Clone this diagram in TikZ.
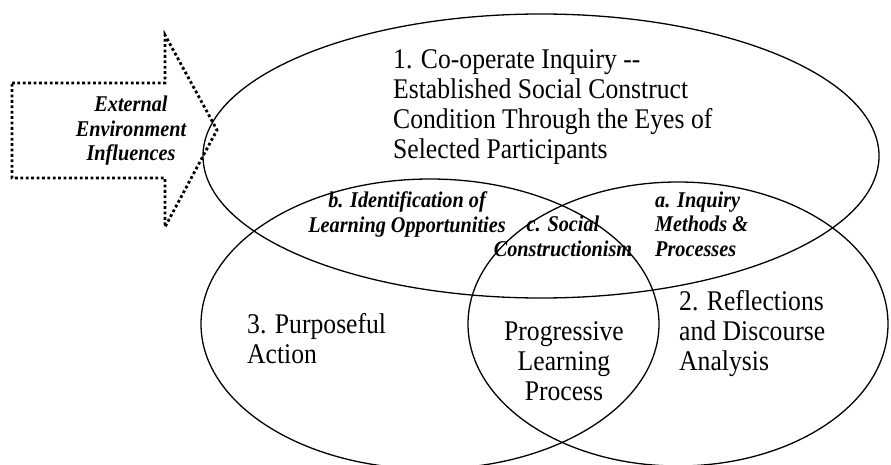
\documentclass[tikz,border=0pt]{standalone}
\usepackage{fontspec}
\setmainfont[FakeStretch=0.9]{Liberation Serif}

\begin{document}
\begin{tikzpicture}[
            x = 1pt, y = -1pt, % one unit per pixel, y runs down
            ring/.style = {draw, line width=1.3pt}, % ellipse outline
            inflow/.style = {line width=2.8pt, dash pattern=on 2.8pt off 2.6pt}, % square dots
            stage/.style = {inner sep=0pt, font=\fontsize{28.5}{30}\selectfont}, % upright labels
            facet/.style = {inner sep=0pt, font=\fontsize{22.5}{24.5}\selectfont\bfseries\itshape} % bold italic labels
        ]
	\useasboundingbox (0,0) rectangle (891,465);

	% the three circles
	\draw[ring] (541,156) ellipse [x radius=338pt, y radius=142pt];
	\draw[ring] (430,324) ellipse [x radius=229pt, y radius=145pt];
	\draw[ring] (678,324) ellipse [x radius=210pt, y radius=142pt];

	% outside arrow
	\draw[inflow] (12,83) -- (165,83) -- (165,35) -- (217,130) -- (165,227) -- (165,178) -- (12,178) -- cycle;
	\node[facet, anchor=base, align=center] (extern) at (131,161) {External\\Environment\\Influences};

	% anchors sit on the last line
	\node[stage, anchor=base west, align=left] (coop) at (393,159) {1. Co-operate Inquiry {-}{-}\\Established Social Construct\\Condition Through the Eyes of\\Selected Participants};
	\node[stage, anchor=base west, align=left] (reflect) at (679,370) {2. Reflections\\and Discourse\\Analysis};
	\node[stage, anchor=base west, align=left] (action) at (247,363) {3. Purposeful\\Action};
	\node[stage, anchor=base, align=center] (progress) at (564,400) {Progressive\\Learning\\Process};

	\node[facet, anchor=base, align=center] (ident) at (407,232) {b. Identification of\\Learning Opportunities};
	\node[facet, anchor=base, align=center] (social) at (563,256) {c. Social\\Constructionism};
	\node[facet, anchor=base west, align=left] (method) at (655,256) {a. Inquiry\\Methods \&\\Processes};

\end{tikzpicture}
\end{document}
